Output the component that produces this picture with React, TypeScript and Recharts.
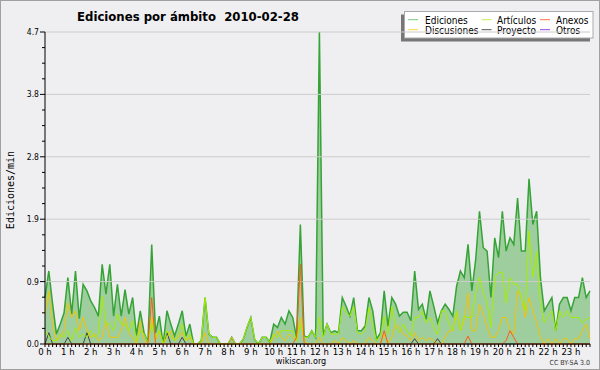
import React from 'react';
import { ComposedChart, Area, Line, XAxis, YAxis, ReferenceLine, Customized } from 'recharts';

const FONT = "'DejaVu Sans Condensed', 'DejaVu Sans', sans-serif";

const hourLabels = [
  '0 h', '1 h', '2 h', '3 h', '4 h', '5 h', '6 h', '7 h', '8 h', '9 h', '10 h', '11 h',
  '12 h', '13 h', '14 h', '15 h', '16 h', '17 h', '18 h', '19 h', '20 h', '21 h', '22 h', '23 h',
];

const yMajorTicks = [0, 0.94, 1.88, 2.82, 3.76, 4.7];
const yAllTicks = [
  0, 0.235, 0.47, 0.705, 0.94, 1.175, 1.41, 1.645, 1.88, 2.115, 2.35, 2.585, 2.82,
  3.055, 3.29, 3.525, 3.76, 3.995, 4.23, 4.465, 4.7,
];

// one value every 10 minutes, 6 per row = 1 hour
const ediciones = [
  0.7, 1.1, 0.6, 0.15, 0.3, 0.47,
  1.0, 0.45, 1.1, 0.38, 0.9, 0.8,
  0.65, 0.55, 0.42, 1.2, 0.75, 1.2,
  0.42, 0.9, 0.42, 0.82, 0.45, 0.7,
  0.13, 0.5, 0.17, 0.03, 1.5, 0.17,
  0.42, 0.0, 0.5, 0.3, 0.12, 0.3,
  0.5, 0.12, 0.3, 0.0, 0.0, 0.05,
  0.7, 0.15, 0.1, 0.1, 0.0, 0.0,
  0.0, 0.1, 0.0, 0.0, 0.07, 0.25,
  0.4, 0.07, 0.0, 0.1, 0.1, 0.03,
  0.3, 0.25, 0.4, 0.3, 0.5, 0.4,
  0.1, 1.8, 0.12, 0.1, 0.2, 0.1,
  4.7, 0.12, 0.3, 0.17, 0.2, 0.17,
  0.7, 0.57, 0.42, 0.7, 0.2, 0.2,
  0.27, 0.7, 0.5, 0.07, 0.17, 0.8,
  0.27, 0.7, 0.6, 0.42, 0.48, 0.48,
  0.35, 1.1, 0.52, 0.6, 0.37, 0.8,
  0.57, 0.32, 0.5, 0.6, 0.52, 0.42,
  0.87, 1.1, 1.0, 1.5, 0.8, 1.27,
  2.0, 1.45, 1.4, 0.7, 1.6, 1.3,
  2.0, 1.4, 1.6, 1.5, 2.2, 1.4,
  1.4, 2.49, 1.8, 2.0, 1.0, 0.5,
  0.6, 0.7, 0.2, 0.6, 0.7, 0.7,
  0.5, 0.7, 0.7, 1.0, 0.7, 0.8,
];

const articulos = [
  0.2, 0.12, 0.05, 0.05, 0.15, 0.1,
  0.2, 0.05, 0.25, 0.1, 0.15, 0.1,
  0.2, 0.1, 0.15, 0.72, 0.3, 0.3,
  0.2, 0.45, 0.3, 0.3, 0.2, 0.35,
  0.05, 0.2, 0.15, 0.03, 0.3, 0.1,
  0.2, 0.0, 0.2, 0.1, 0.05, 0.15,
  0.3, 0.05, 0.15, 0.0, 0.0, 0.05,
  0.7, 0.15, 0.1, 0.1, 0.0, 0.0,
  0.0, 0.0, 0.0, 0.0, 0.07, 0.25,
  0.4, 0.07, 0.0, 0.1, 0.1, 0.03,
  0.15, 0.1, 0.2, 0.2, 0.2, 0.2,
  0.05, 0.3, 0.1, 0.1, 0.2, 0.1,
  0.4, 0.1, 0.3, 0.15, 0.15, 0.15,
  0.57, 0.47, 0.42, 0.57, 0.17, 0.15,
  0.2, 0.55, 0.27, 0.05, 0.12, 0.42,
  0.15, 0.57, 0.27, 0.17, 0.3, 0.2,
  0.12, 0.4, 0.4, 0.5, 0.32, 0.4,
  0.25, 0.14, 0.5, 0.5, 0.3, 0.2,
  0.5, 0.2, 0.42, 0.4, 0.4, 0.77,
  1.0, 0.77, 0.62, 0.25, 1.0, 1.08,
  1.08, 0.62, 1.0, 0.9, 0.9, 0.7,
  0.5, 1.7, 1.0, 1.4, 0.6, 0.32,
  0.42, 0.5, 0.2, 0.5, 0.4, 0.5,
  0.4, 0.4, 0.4, 0.32, 0.37, 0.4,
];

const discusiones = [
  0.45, 0.8, 0.3, 0.05, 0.1, 0.2,
  0.62, 0.4, 0.5, 0.2, 0.4, 0.2,
  0.1, 0.15, 0.05, 0.1, 0.35, 0.1,
  0.1, 0.1, 0.2, 0.4, 0.15, 0.1,
  0.0, 0.35, 0.05, 0.0, 0.4, 0.05,
  0.2, 0.0, 0.1, 0.2, 0.05, 0.1,
  0.17, 0.05, 0.1, 0.0, 0.0, 0.0,
  0.17, 0.0, 0.0, 0.0, 0.0, 0.0,
  0.0, 0.1, 0.0, 0.0, 0.0, 0.0,
  0.0, 0.0, 0.0, 0.0, 0.0, 0.0,
  0.1, 0.2, 0.1, 0.05, 0.15, 0.1,
  0.05, 0.4, 0.05, 0.0, 0.0, 0.0,
  0.1, 0.0, 0.0, 0.0, 0.05, 0.0,
  0.1, 0.05, 0.0, 0.05, 0.0, 0.0,
  0.0, 0.1, 0.05, 0.0, 0.0, 0.15,
  0.0, 0.1, 0.3, 0.25, 0.15, 0.12,
  0.05, 0.17, 0.05, 0.1, 0.05, 0.09,
  0.05, 0.0, 0.0, 0.1, 0.2, 0.2,
  0.47, 0.2, 0.35, 0.77, 0.2, 0.2,
  0.6, 0.45, 0.25, 0.1, 0.1, 0.2,
  0.4, 0.4, 0.2, 0.15, 0.8, 0.7,
  0.4, 0.7, 0.5, 0.32, 0.1, 0.0,
  0.08, 0.0, 0.08, 0.0, 0.08, 0.08,
  0.0, 0.08, 0.08, 0.2, 0.3, 0.08,
];

const anexos = [
  0, 0, 0, 0, 0, 0,
  0, 0, 0, 0, 0, 0,
  0, 0, 0, 0, 0, 0,
  0, 0, 0, 0, 0, 0,
  0, 0, 0, 0, 0.7, 0,
  0, 0, 0, 0, 0, 0,
  0, 0, 0, 0, 0, 0,
  0, 0, 0, 0, 0, 0,
  0, 0, 0, 0, 0, 0,
  0, 0, 0, 0, 0, 0,
  0, 0, 0, 0, 0, 0,
  0.1, 1.2, 0, 0, 0, 0,
  0, 0, 0, 0, 0, 0,
  0, 0, 0, 0, 0, 0,
  0, 0, 0, 0, 0, 0.2,
  0, 0, 0, 0, 0, 0,
  0, 0, 0, 0, 0, 0,
  0, 0, 0, 0, 0, 0,
  0, 0, 0, 0.12, 0, 0,
  0, 0, 0, 0, 0, 0,
  0, 0.05, 0.2, 0.1, 0, 0,
  0, 0, 0, 0, 0, 0,
  0, 0, 0, 0, 0, 0,
  0, 0, 0, 0, 0, 0,
];

const proyecto = [
  0, 0.17, 0, 0, 0, 0,
  0.1, 0, 0, 0, 0, 0.17,
  0, 0, 0, 0, 0, 0,
  0, 0, 0, 0, 0, 0,
  0, 0, 0, 0, 0, 0,
  0, 0, 0.17, 0, 0, 0,
  0.1, 0, 0, 0, 0, 0,
  0, 0, 0, 0, 0, 0,
  0, 0, 0, 0, 0, 0,
  0, 0, 0, 0, 0, 0,
  0, 0, 0, 0, 0, 0,
  0, 0, 0, 0, 0, 0,
  0, 0, 0, 0, 0, 0,
  0, 0, 0, 0, 0, 0,
  0, 0, 0, 0, 0, 0,
  0, 0, 0, 0, 0, 0,
  0, 0.08, 0, 0, 0, 0,
  0, 0.08, 0, 0, 0, 0,
  0, 0, 0, 0, 0, 0,
  0, 0, 0, 0, 0, 0,
  0, 0, 0, 0, 0, 0,
  0, 0, 0, 0, 0, 0,
  0, 0, 0, 0, 0, 0,
  0, 0, 0, 0, 0, 0,
];

const seriesInfo = [
  { key: 'ediciones', name: 'Ediciones', color: '#7acc7a' },
  { key: 'articulos', name: 'Artículos', color: '#c4ee50' },
  { key: 'anexos', name: 'Anexos', color: '#ff7744' },
  { key: 'discusiones', name: 'Discusiones', color: '#ffd840' },
  { key: 'proyecto', name: 'Proyecto', color: '#555555' },
  { key: 'otros', name: 'Otros', color: '#9944ee' },
];

const data = ediciones.map((e, i) => ({
  i,
  ediciones: e,
  articulos: articulos[i],
  discusiones: discusiones[i],
  anexos: anexos[i],
  proyecto: proyecto[i],
}));

const xTicks = ediciones.map((_, i) => i);

const XTick = (props: any) => {
  const { x, y, payload } = props;
  const i = payload.value as number;
  return (
    <g>
      <line x1={x} x2={x} y1={y} y2={y + 3} stroke="#000" strokeWidth={1} />
      {i % 6 === 0 && (
        <text x={x} y={y + 11} textAnchor="middle" fontSize={9.5} fontFamily={FONT} fontStretch="condensed" fill="#000">
          {hourLabels[i / 6]}
        </text>
      )}
    </g>
  );
};

const YTick = (props: any) => {
  const { x, y, payload } = props;
  const v = payload.value as number;
  const major = yMajorTicks.some((m) => Math.abs(m - v) < 1e-6);
  return (
    <g>
      <line x1={x - (major ? 5 : 3)} x2={x} y1={y} y2={y} stroke="#000" strokeWidth={1} />
      {major && (
        <text x={x - 6} y={y + 3} textAnchor="end" fontSize={8.5} fontFamily={FONT} fontStretch="condensed" fill="#000">
          {v.toFixed(1)}
        </text>
      )}
    </g>
  );
};

const Decorations = () => {
  const colX = [408, 481.5, 540];
  const textX = [425, 497, 556];
  const rowY = [19.7, 29.7];
  const baseY = [23.5, 33.5];
  return (
    <g>
      <text
        x={188}
        y={20.5}
        textAnchor="middle"
        fontSize={13}
        fontWeight="bold"
        fontFamily={FONT}
        fontStretch="condensed"
        fill="#000"
        xmlSpace="preserve"
        style={{ whiteSpace: 'pre' }}
      >
        {'Ediciones por ámbito  2010-02-28'}
      </text>
      <text
        x={14}
        y={190}
        transform="rotate(-90 14 190)"
        textAnchor="middle"
        fontSize={10}
        fontFamily="'DejaVu Sans Mono', monospace"
        fill="#000"
      >
        Ediciones/min
      </text>
      <text x={301} y={364} textAnchor="middle" fontSize={9} fontFamily={FONT} fontStretch="condensed" fill="#000">
        wikiscan.org
      </text>
      <text x={590} y={365} textAnchor="end" fontSize={7} fontFamily={FONT} fontStretch="condensed" fill="#333">
        CC BY-SA 3.0
      </text>
      <rect x={401} y={14.5} width={189} height={27} fill="#777777" />
      <rect x={404.5} y={11.5} width={188.5} height={26.5} fill="#ffffff" stroke="#aaaaaa" strokeWidth={1} />
      {seriesInfo.map((s, k) => {
        const col = k % 3;
        const row = Math.floor(k / 3);
        return (
          <g key={s.key}>
            <line x1={colX[col]} x2={colX[col] + 10} y1={rowY[row]} y2={rowY[row]} stroke={s.color} strokeWidth={1} />
            <text x={textX[col]} y={baseY[row]} fontSize={10} fontFamily={FONT} fontStretch="condensed" fill="#000">
              {s.name}
            </text>
          </g>
        );
      })}
    </g>
  );
};

export default function App() {
  return (
    <div style={{ position: 'absolute', left: 0, top: 0, width: 600, height: 370, background: '#efeff1' }}>
      <ComposedChart width={600} height={370} data={data} margin={{ top: 32, right: 10, bottom: 0, left: 0 }}>
        {yMajorTicks.slice(1).map((v) => (
          <ReferenceLine key={v} y={v} stroke="#cccccc" strokeWidth={1} ifOverflow="extendDomain" />
        ))}
        <XAxis
          dataKey="i"
          type="number"
          domain={[0, 143]}
          ticks={xTicks}
          interval={0}
          height={26}
          tickSize={0}
          tickMargin={0}
          tick={<XTick />}
          axisLine={{ stroke: '#000', strokeWidth: 1 }}
        />
        <YAxis
          type="number"
          domain={[0, 4.7]}
          ticks={yAllTicks}
          interval={0}
          width={45}
          tickSize={0}
          tickMargin={0}
          tick={<YTick />}
          axisLine={{ stroke: '#000', strokeWidth: 1 }}
        />
        <Area
          type="linear"
          dataKey="ediciones"
          stroke="#36a336"
          strokeWidth={1.5}
          fill="#8fc88f"
          fillOpacity={0.85}
          dot={false}
          activeDot={false}
          isAnimationActive={false}
        />
        <Line type="linear" dataKey="proyecto" stroke="#444444" strokeWidth={1} dot={false} activeDot={false} isAnimationActive={false} />
        <Line type="linear" dataKey="discusiones" stroke="#f5c400" strokeWidth={1} dot={false} activeDot={false} isAnimationActive={false} />
        <Line type="linear" dataKey="articulos" stroke="#a6ee00" strokeWidth={1} dot={false} activeDot={false} isAnimationActive={false} />
        <Line type="linear" dataKey="anexos" stroke="#ff5a1a" strokeWidth={1} dot={false} activeDot={false} isAnimationActive={false} />
        <Customized component={Decorations} />
      </ComposedChart>
      <div
        style={{
          position: 'absolute',
          left: 0,
          top: 0,
          width: 600,
          height: 370,
          boxSizing: 'border-box',
          border: '1px solid #a0a0a0',
          pointerEvents: 'none',
        }}
      />
    </div>
  );
}
